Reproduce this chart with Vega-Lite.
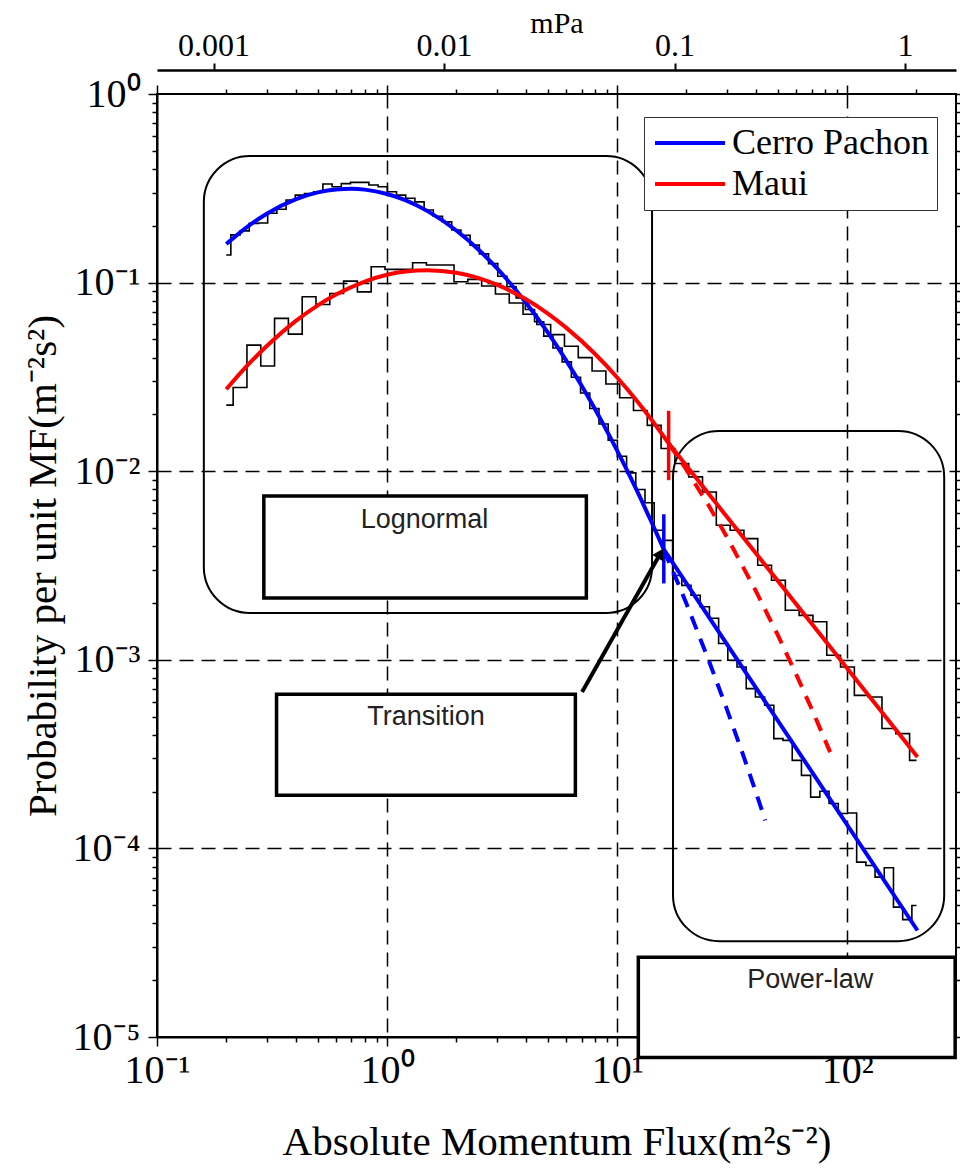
{
  "$schema": "https://vega.github.io/schema/vega-lite/v6.json",
  "width": 799,
  "height": 943,
  "autosize": {"type": "none"},
  "padding": {"left": 157, "top": 94, "right": 4, "bottom": 133},
  "background": "white",
  "config": {"view": {"stroke": "black", "strokeWidth": 2}, "font": "Liberation Serif"},
  "datasets": {
    "blueHist": [
      {"x":0.2,"y":0.140},{"x":0.2094,"y":0.179},{"x":0.2296,"y":0.188},{"x":0.2518,"y":0.206},{"x":0.2761,"y":0.207},{"x":0.3027,"y":0.233},{"x":0.3319,"y":0.245},{"x":0.3639,"y":0.274},{"x":0.3990,"y":0.291},{"x":0.4375,"y":0.297},{"x":0.4797,"y":0.303},{"x":0.5260,"y":0.333},{"x":0.5768,"y":0.322},{"x":0.6324,"y":0.335},{"x":0.6934,"y":0.340},{"x":0.7603,"y":0.340},{"x":0.8337,"y":0.329},{"x":0.9141,"y":0.322},{"x":1.0023,"y":0.303},{"x":1.0990,"y":0.291},{"x":1.2050,"y":0.280},{"x":1.3213,"y":0.268},{"x":1.4488,"y":0.2425},{"x":1.5885,"y":0.225},{"x":1.7418,"y":0.210},{"x":1.9099,"y":0.190},{"x":2.0941,"y":0.178},{"x":2.2961,"y":0.158},{"x":2.5177,"y":0.142},{"x":2.7606,"y":0.126},{"x":3.0269,"y":0.108},{"x":3.3189,"y":0.095},{"x":3.6392,"y":0.083},{"x":3.9903,"y":0.072},{"x":4.3752,"y":0.062},{"x":4.7973,"y":0.052},{"x":5.2602,"y":0.045},{"x":5.7677,"y":0.038},{"x":6.3241,"y":0.0315},{"x":6.9343,"y":0.026},{"x":7.6033,"y":0.0215},{"x":8.3368,"y":0.0178},{"x":9.1411,"y":0.0146},{"x":10.023,"y":0.0120},{"x":10.990,"y":0.0098},{"x":12.050,"y":0.0080},{"x":13.213,"y":0.0068},{"x":14.488,"y":0.00486},{"x":15.885,"y":0.0043},{"x":17.418,"y":0.0028},{"x":19.099,"y":0.00248},{"x":20.941,"y":0.0022},{"x":22.961,"y":0.00191},{"x":25.177,"y":0.00166},{"x":27.606,"y":0.00122},{"x":30.269,"y":0.000994},{"x":33.189,"y":0.000916},{"x":36.392,"y":0.000703},{"x":39.903,"y":0.000635},{"x":43.752,"y":0.000574},{"x":47.973,"y":0.000382},{"x":52.602,"y":0.000374},{"x":57.677,"y":0.000293},{"x":63.241,"y":0.000244},{"x":69.343,"y":0.000187},{"x":76.033,"y":0.000201},{"x":83.368,"y":0.000173},{"x":91.411,"y":0.000153},{"x":100.23,"y":0.000154},{"x":109.90,"y":0.0000846},{"x":120.50,"y":0.0000812},{"x":132.13,"y":0.0000704},{"x":144.88,"y":0.000079},{"x":158.85,"y":0.0000488},{"x":174.18,"y":0.0000419},{"x":190.99,"y":0.0000498},{"x":200,"y":0.0000498}
    ],
    "redHist": [
      {"x":0.2,"y":0.0224},{"x":0.2143,"y":0.0278},{"x":0.2460,"y":0.0466},{"x":0.2825,"y":0.0361},{"x":0.3243,"y":0.0646},{"x":0.3724,"y":0.0533},{"x":0.4276,"y":0.0841},{"x":0.4909,"y":0.0766},{"x":0.5636,"y":0.0876},{"x":0.6471,"y":0.1018},{"x":0.7430,"y":0.0893},{"x":0.8531,"y":0.1213},{"x":0.9795,"y":0.1175},{"x":1.1246,"y":0.1175},{"x":1.2912,"y":0.1274},{"x":1.4825,"y":0.1239},{"x":1.7022,"y":0.1239},{"x":1.9543,"y":0.101},{"x":2.2439,"y":0.104},{"x":2.5763,"y":0.096},{"x":2.9580,"y":0.087},{"x":3.3963,"y":0.078},{"x":3.8994,"y":0.068},{"x":4.4771,"y":0.060},{"x":5.1404,"y":0.053},{"x":5.9020,"y":0.046},{"x":6.7764,"y":0.040},{"x":7.7804,"y":0.034},{"x":8.9331,"y":0.029},{"x":10.257,"y":0.0245},{"x":11.776,"y":0.021},{"x":13.521,"y":0.0175},{"x":15.524,"y":0.01319},{"x":17.824,"y":0.01098},{"x":20.464,"y":0.00933},{"x":23.496,"y":0.00776},{"x":26.977,"y":0.00517},{"x":30.974,"y":0.00486},{"x":35.563,"y":0.00439},{"x":40.832,"y":0.00317},{"x":46.881,"y":0.00264},{"x":53.827,"y":0.00183},{"x":61.802,"y":0.00172},{"x":70.958,"y":0.00159},{"x":81.470,"y":0.001057},{"x":93.540,"y":0.000916},{"x":107.40,"y":0.000648},{"x":123.31,"y":0.000635},{"x":141.58,"y":0.000432},{"x":162.55,"y":0.000406},{"x":186.64,"y":0.000293},{"x":200,"y":0.000293}
    ],
    "fits": [
      {"site":"Cerro Pachon","part":"lognormal","x":0.2,"y":0.1600},{"site":"Cerro Pachon","part":"lognormal","x":0.25,"y":0.1999},{"site":"Cerro Pachon","part":"lognormal","x":0.3,"y":0.2320},{"site":"Cerro Pachon","part":"lognormal","x":0.4,"y":0.2763},{"site":"Cerro Pachon","part":"lognormal","x":0.5,"y":0.3007},{"site":"Cerro Pachon","part":"lognormal","x":0.6,"y":0.3119},{"site":"Cerro Pachon","part":"lognormal","x":0.7,"y":0.3143},{"site":"Cerro Pachon","part":"lognormal","x":0.8,"y":0.3112},{"site":"Cerro Pachon","part":"lognormal","x":1,"y":0.2951},{"site":"Cerro Pachon","part":"lognormal","x":1.2,"y":0.2735},{"site":"Cerro Pachon","part":"lognormal","x":1.5,"y":0.2393},{"site":"Cerro Pachon","part":"lognormal","x":2,"y":0.1888},{"site":"Cerro Pachon","part":"lognormal","x":2.5,"y":0.1493},{"site":"Cerro Pachon","part":"lognormal","x":3,"y":0.1192},{"site":"Cerro Pachon","part":"lognormal","x":4,"y":0.07872},{"site":"Cerro Pachon","part":"lognormal","x":5,"y":0.05424},{"site":"Cerro Pachon","part":"lognormal","x":6,"y":0.03871},{"site":"Cerro Pachon","part":"lognormal","x":7,"y":0.02844},{"site":"Cerro Pachon","part":"lognormal","x":8,"y":0.02141},{"site":"Cerro Pachon","part":"lognormal","x":10,"y":0.01285},{"site":"Cerro Pachon","part":"lognormal","x":12,"y":0.008197},{"site":"Cerro Pachon","part":"lognormal","x":14,"y":0.005475},{"site":"Cerro Pachon","part":"lognormal","x":15.95,"y":0.00385},
      {"site":"Cerro Pachon","part":"power","x":15.95,"y":0.00385},{"site":"Cerro Pachon","part":"power","x":202,"y":0.0000367},
      {"site":"Maui","part":"lognormal","x":0.2,"y":0.02720},{"site":"Maui","part":"lognormal","x":0.25,"y":0.03692},{"site":"Maui","part":"lognormal","x":0.3,"y":0.04613},{"site":"Maui","part":"lognormal","x":0.4,"y":0.06244},{"site":"Maui","part":"lognormal","x":0.5,"y":0.07577},{"site":"Maui","part":"lognormal","x":0.6,"y":0.08643},{"site":"Maui","part":"lognormal","x":0.8,"y":0.1013},{"site":"Maui","part":"lognormal","x":1,"y":0.1100},{"site":"Maui","part":"lognormal","x":1.2,"y":0.1145},{"site":"Maui","part":"lognormal","x":1.5,"y":0.1164},{"site":"Maui","part":"lognormal","x":2,"y":0.1128},{"site":"Maui","part":"lognormal","x":2.5,"y":0.1057},{"site":"Maui","part":"lognormal","x":3,"y":0.09750},{"site":"Maui","part":"lognormal","x":4,"y":0.08179},{"site":"Maui","part":"lognormal","x":5,"y":0.06851},{"site":"Maui","part":"lognormal","x":6,"y":0.05770},{"site":"Maui","part":"lognormal","x":8,"y":0.04193},{"site":"Maui","part":"lognormal","x":10,"y":0.03140},{"site":"Maui","part":"lognormal","x":12,"y":0.02414},{"site":"Maui","part":"lognormal","x":14,"y":0.01897},{"site":"Maui","part":"lognormal","x":16.74,"y":0.01405},
      {"site":"Maui","part":"power","x":16.74,"y":0.01405},{"site":"Maui","part":"power","x":202,"y":0.000305}
    ],
    "dashed": [
      {"site":"Cerro Pachon","x":15.95,"y":0.003828},{"site":"Cerro Pachon","x":18,"y":0.002710},{"site":"Cerro Pachon","x":20,"y":0.001986},{"site":"Cerro Pachon","x":25,"y":0.000994},{"site":"Cerro Pachon","x":30,"y":0.000546},{"site":"Cerro Pachon","x":35,"y":0.0003217},{"site":"Cerro Pachon","x":40,"y":0.0002000},{"site":"Cerro Pachon","x":44,"y":0.0001410},
      {"site":"Maui","x":16.74,"y":0.01405},{"site":"Maui","x":20,"y":0.01018},{"site":"Maui","x":25,"y":0.006574},{"site":"Maui","x":30,"y":0.004479},{"site":"Maui","x":40,"y":0.002329},{"site":"Maui","x":50,"y":0.001346},{"site":"Maui","x":60,"y":0.000837},{"site":"Maui","x":70,"y":0.000550},{"site":"Maui","x":84.3,"y":0.000324}
    ],
    "markers": [
      {"site":"Cerro Pachon","x":15.95,"y":0.00591,"y2":0.00254},
      {"site":"Maui","x":16.74,"y":0.0209,"y2":0.00896}
    ],
    "regions": [
      {"x":0.1598,"x2":14.18,"y":0.469,"y2":0.00177},
      {"x":17.49,"x2":263.9,"y":0.01636,"y2":0.00003223}
    ],
    "labelBoxes": [
      {"x":0.2913,"x2":7.347,"y":0.0073958,"y2":0.002127},
      {"x":0.3308,"x2":6.583,"y":0.000656,"y2":0.0001911},
      {"x":12.36,"x2":294.5,"y":0.00002651,"y2":0.000007785}
    ],
    "labels": [
      {"label":"Lognormal","x":1.454,"y":0.0055},
      {"label":"Transition","x":1.476,"y":0.000495},
      {"label":"Power-law","x":69.1,"y":0.00001995}
    ],
    "arrow": [
      {"x":7.04,"y":0.000675},{"x":15.41,"y":0.003664}
    ],
    "arrowHead": [
      {"x":15.41,"y":0.003664}
    ]
  },
  "layer": [
    {
      "encoding": {
        "x": {
          "field": "x", "type": "quantitative",
          "scale": {"type": "log", "domain": [0.1, 297], "nice": false},
          "axis": {
            "orient": "bottom",
            "values": [0.1,0.2,0.3,0.4,0.5,0.6,0.7,0.8,0.9,1,2,3,4,5,6,7,8,9,10,20,30,40,50,60,70,80,90,100,200],
            "labelExpr": "datum.value == 0.1 ? '10⁻¹' : datum.value == 1 ? '10⁰' : datum.value == 10 ? '10¹' : datum.value == 100 ? '10²' : ''",
            "labelFont": "Liberation Serif", "labelFontSize": 40, "labelColor": "black", "labelPadding": 4,
            "labelFlush": false, "labelOverlap": false, "labelBound": false,
            "tickSize": {"condition": {"test": "indexof([0.1,1,10,100], datum.value) >= 0", "value": 9}, "value": 5},
            "tickColor": "black", "tickWidth": 1.5,
            "domainColor": "black", "domainWidth": 2,
            "grid": true, "gridColor": "black", "gridWidth": 1.5, "gridDash": [14, 8],
            "gridOpacity": {"condition": {"test": "indexof([1,10,100], datum.value) >= 0", "value": 1}, "value": 0},
            "title": "Absolute Momentum Flux(m²s⁻²)", "titleFont": "Liberation Serif", "titleFontSize": 41,
            "titleFontWeight": "normal", "titleColor": "black", "titlePadding": 32
          }
        },
        "y": {
          "field": "y", "type": "quantitative",
          "scale": {"type": "log", "domain": [0.00001, 1], "nice": false},
          "axis": {
            "orient": "left",
            "values": [0.00001,0.00002,0.00003,0.00004,0.00005,0.00006,0.00007,0.00008,0.00009,0.0001,0.0002,0.0003,0.0004,0.0005,0.0006,0.0007,0.0008,0.0009,0.001,0.002,0.003,0.004,0.005,0.006,0.007,0.008,0.009,0.01,0.02,0.03,0.04,0.05,0.06,0.07,0.08,0.09,0.1,0.2,0.3,0.4,0.5,0.6,0.7,0.8,0.9,1],
            "labelExpr": "datum.value == 1 ? '10⁰' : datum.value == 0.1 ? '10⁻¹' : datum.value == 0.01 ? '10⁻²' : datum.value == 0.001 ? '10⁻³' : datum.value == 0.0001 ? '10⁻⁴' : datum.value == 0.00001 ? '10⁻⁵' : ''",
            "labelFont": "Liberation Serif", "labelFontSize": 40, "labelColor": "black", "labelPadding": 8,
            "labelFlush": false, "labelOverlap": false, "labelBound": false,
            "tickSize": {"condition": {"test": "indexof([1,0.1,0.01,0.001,0.0001,0.00001], datum.value) >= 0", "value": 9}, "value": 5},
            "tickColor": "black", "tickWidth": 1.5,
            "domainColor": "black", "domainWidth": 2,
            "grid": true, "gridColor": "black", "gridWidth": 1.5, "gridDash": [14, 8],
            "gridOpacity": {"condition": {"test": "indexof([0.1,0.01,0.001,0.0001], datum.value) >= 0", "value": 1}, "value": 0},
            "title": "Probability per unit MF(m⁻²s²)", "titleFont": "Liberation Serif", "titleFontSize": 41,
            "titleFontWeight": "normal", "titleColor": "black", "titlePadding": 8
          }
        }
      },
      "layer": [
        {"data": {"name": "blueHist"}, "mark": {"type": "line", "interpolate": "step-after", "color": "black", "strokeWidth": 1.6}},
        {"data": {"name": "redHist"}, "mark": {"type": "line", "interpolate": "step-after", "color": "black", "strokeWidth": 1.6}},
        {"data": {"name": "regions"}, "mark": {"type": "rect", "filled": false, "stroke": "black", "strokeWidth": 2, "cornerRadius": 46},
         "encoding": {"x2": {"field": "x2"}, "y2": {"field": "y2"}}},
        {"data": {"name": "dashed"}, "transform": [{"filter": "datum.site == 'Cerro Pachon'"}],
         "mark": {"type": "line", "strokeWidth": 4, "strokeDash": [14, 10], "color": "#0000ff"}},
        {"data": {"name": "dashed"}, "transform": [{"filter": "datum.site == 'Maui'"}],
         "mark": {"type": "line", "strokeWidth": 4, "strokeDash": [14, 10], "color": "#ff0000"}},
        {"data": {"name": "fits"}, "mark": {"type": "line", "strokeWidth": 4, "interpolate": "monotone"},
         "encoding": {
           "color": {"field": "site", "type": "nominal", "scale": {"domain": ["Cerro Pachon", "Maui"], "range": ["#0000ff", "#ff0000"]},
             "legend": {"orient": "none", "legendX": 487, "legendY": 23, "title": null,
               "symbolType": "M-5,0L5,0", "symbolSize": 196, "symbolStrokeWidth": 4, "symbolOffset": 20,
               "labelFont": "Liberation Serif", "labelFontSize": 36, "labelColor": "black", "labelLimit": 400, "padding": 8, "rowPadding": 5, "labelOffset": 24,
               "strokeColor": "#333333", "fillColor": "white"}},
           "detail": {"field": "part"}}},
        {"data": {"name": "markers"}, "transform": [{"filter": "datum.site == 'Cerro Pachon'"}],
         "mark": {"type": "rule", "strokeWidth": 3.5, "color": "#0000ff"},
         "encoding": {"y2": {"field": "y2"}}},
        {"data": {"name": "markers"}, "transform": [{"filter": "datum.site == 'Maui'"}],
         "mark": {"type": "rule", "strokeWidth": 3.5, "color": "#ff0000"},
         "encoding": {"y2": {"field": "y2"}}},
        {"data": {"name": "labelBoxes"}, "mark": {"type": "rect", "fill": "white", "stroke": "black", "strokeWidth": 3.5},
         "encoding": {"x2": {"field": "x2"}, "y2": {"field": "y2"}}},
        {"data": {"name": "labels"}, "mark": {"type": "text", "font": "Liberation Sans", "fontSize": 27, "color": "#222222", "align": "center", "baseline": "middle"},
         "encoding": {"text": {"field": "label"}}},
        {"data": {"name": "arrow"}, "mark": {"type": "line", "color": "black", "strokeWidth": 4}},
        {"data": {"name": "arrowHead"}, "mark": {"type": "point", "shape": "triangle-up", "filled": true, "color": "black", "size": 160, "angle": 29.5, "opacity": 1}}
      ]
    },
    {
      "data": {"values": [{"fx": 1, "fy": 0.1}]},
      "mark": {"type": "point", "opacity": 0},
      "encoding": {
        "x": {"field": "fx", "type": "quantitative", "scale": {"type": "log", "domain": [0.1, 297], "nice": false},
          "axis": {"orient": "top", "values": [0.1,0.2,0.3,0.4,0.5,0.6,0.7,0.8,0.9,1,2,3,4,5,6,7,8,9,10,20,30,40,50,60,70,80,90,100,200],
            "labels": false, "domain": false, "grid": false, "title": null, "tickColor": "black", "tickWidth": 1.5,
            "tickSize": {"condition": {"test": "indexof([0.1,1,10,100], datum.value) >= 0", "value": 9}, "value": 5}}},
        "y": {"field": "fy", "type": "quantitative", "scale": {"type": "log", "domain": [0.00001, 1], "nice": false},
          "axis": {"orient": "right", "values": [0.00001,0.00002,0.00003,0.00004,0.00005,0.00006,0.00007,0.00008,0.00009,0.0001,0.0002,0.0003,0.0004,0.0005,0.0006,0.0007,0.0008,0.0009,0.001,0.002,0.003,0.004,0.005,0.006,0.007,0.008,0.009,0.01,0.02,0.03,0.04,0.05,0.06,0.07,0.08,0.09,0.1,0.2,0.3,0.4,0.5,0.6,0.7,0.8,0.9,1],
            "labels": false, "domain": false, "grid": false, "title": null, "tickColor": "black", "tickWidth": 1.5,
            "tickSize": {"condition": {"test": "indexof([1,0.1,0.01,0.001,0.0001,0.00001], datum.value) >= 0", "value": 9}, "value": 5}}}
      }
    },
    {
      "data": {"values": [{"mpa": 0.01}]},
      "mark": {"type": "point", "opacity": 0},
      "encoding": {
        "x": {"field": "mpa", "type": "quantitative", "scale": {"type": "log", "domain": [0.000568, 1.665], "nice": false},
          "axis": {"orient": "top", "offset": 24, "values": [0.001, 0.01, 0.1, 1],
            "labelExpr": "datum.value == 0.001 ? '0.001' : datum.value == 0.01 ? '0.01' : datum.value == 0.1 ? '0.1' : '1'",
            "labelFont": "Liberation Serif", "labelFontSize": 32, "labelColor": "black", "labelPadding": 1, "labelFlush": false,
            "tickSize": 7, "tickColor": "black", "tickWidth": 2, "domainColor": "black", "domainWidth": 2.5, "grid": false,
            "title": "mPa", "titleFont": "Liberation Serif", "titleFontSize": 30, "titleFontWeight": "normal", "titleColor": "black", "titlePadding": -9}}
      }
    }
  ],
  "resolve": {"scale": {"x": "independent", "y": "independent"}}
}
